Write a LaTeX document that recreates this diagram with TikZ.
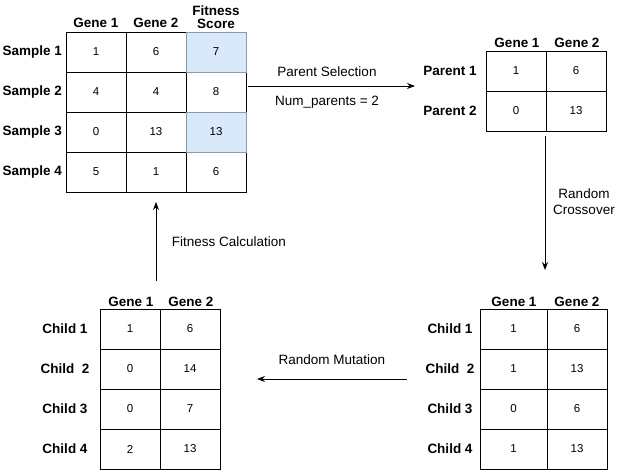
\documentclass[tikz,border=0pt]{standalone}
\usepackage{fontspec}
\setmainfont{Liberation Sans}
\usetikzlibrary{arrows.meta}
\definecolor{cellblue}{HTML}{DAE8FC}
\definecolor{cellbluedraw}{HTML}{8A99AE}
\tikzset{
  cell/.style={draw=black, line width=0.8pt, minimum width=60pt, minimum height=40pt, inner sep=0pt, font=\fontsize{11.5}{13}\selectfont},
  bluecell/.style={cell, fill=cellblue, draw=cellbluedraw},
  rowlab/.style={font=\fontsize{13.5}{15}\selectfont\bfseries, inner sep=0pt},
  collab/.style={font=\fontsize{13.5}{15}\selectfont\bfseries, inner sep=0pt, align=center},
  edgelab/.style={font=\fontsize{13.5}{16}\selectfont, inner sep=0pt, align=center},
  flow/.style={line width=0.8pt, -{Stealth[length=8pt,width=6pt]}}
}
\begin{document}
\begin{tikzpicture}[x=1pt,y=-1pt]
\useasboundingbox (0,0) rectangle (619,470);
% ---------- Top-left table (samples) ----------
\node[collab] (hs1) at (96,23) {Gene 1};
\node[collab] (hs2) at (156,23) {Gene 2};
\node[collab] (hs3) at (216,17) {Fitness\\[-2pt]Score};
\foreach \r/\y/\a/\b/\c in {1/52/1/6/7, 2/92/4/4/8, 3/132/0/13/13, 4/172/5/1/6}{
  \node[rowlab, anchor=east] (sl\r) at (62,\y) {Sample \r};
  \node[cell] (s\r a) at (96,\y) {\a};
  \node[cell] (s\r b) at (156,\y) {\b};
  \node[cell] (s\r c) at (216,\y) {\c};
}
\node[bluecell] (s1c) at (216,52) {7};
\node[bluecell] (s3c) at (216,132) {13};
% ---------- Top-right table (parents) ----------
\node[collab] (hp1) at (517,43) {Gene 1};
\node[collab] (hp2) at (577,43) {Gene 2};
\foreach \r/\y/\a/\b in {1/71/1/6, 2/111/0/13}{
  \node[rowlab] (pl\r) at (450,\y) {Parent \r};
  \node[cell] (p\r a) at (516,\y) {\a};
  \node[cell] (p\r b) at (576,\y) {\b};
}
% ---------- Bottom-right table (children after crossover) ----------
\node[collab] (hc1) at (514,302) {Gene 1};
\node[collab] (hc2) at (577,302) {Gene 2};
\foreach \r/\y/\a/\b/\t in {1/329/1/6/{Child 1}, 2/369/1/13/{Child\ \ 2}, 3/409/0/6/{Child 3}, 4/449/1/13/{Child 4}}{
  \node[rowlab] (cl\r) at (450,\y) {\t};
  \node[cell, minimum width=67pt] (c\r a) at (513.5,\y) {\a};
  \node[cell] (c\r b) at (577,\y) {\b};
}
% ---------- Bottom-left table (children after mutation) ----------
\node[collab] (hm1) at (131,302) {Gene 1};
\node[collab] (hm2) at (191,302) {Gene 2};
\foreach \r/\y/\a/\b/\t in {1/329/1/6/{Child 1}, 2/369/0/14/{Child\ \ 2}, 3/409/0/7/{Child 3}, 4/449/2/13/{Child 4}}{
  \node[rowlab] (ml\r) at (65,\y) {\t};
  \node[cell] (m\r a) at (130,\y) {\a};
  \node[cell] (m\r b) at (190,\y) {\b};
}
% ---------- Connectors ----------
\coordinate (selA) at (248,86);
\coordinate (selB) at (415,86);
\draw[flow] (selA) -- (selB);
\node[edgelab] (lsel) at (327,72) {Parent Selection};
\node[edgelab] (lnum) at (327,102) {Num\_parents = 2};

\coordinate (croA) at (545,136);
\coordinate (croB) at (545,270);
\draw[flow] (croA) -- (croB);
\node[edgelab] (lcro) at (584,202) {Random\\Crossover};

\coordinate (mutA) at (407,379);
\coordinate (mutB) at (257,379);
\draw[flow] (mutA) -- (mutB);
\node[edgelab] (lmut) at (332,360) {Random Mutation};

\coordinate (fitA) at (156,281);
\coordinate (fitB) at (156,202);
\draw[flow] (fitA) -- (fitB);
\node[edgelab] (lfit) at (229,242) {Fitness Calculation};
\end{tikzpicture}
\end{document}
